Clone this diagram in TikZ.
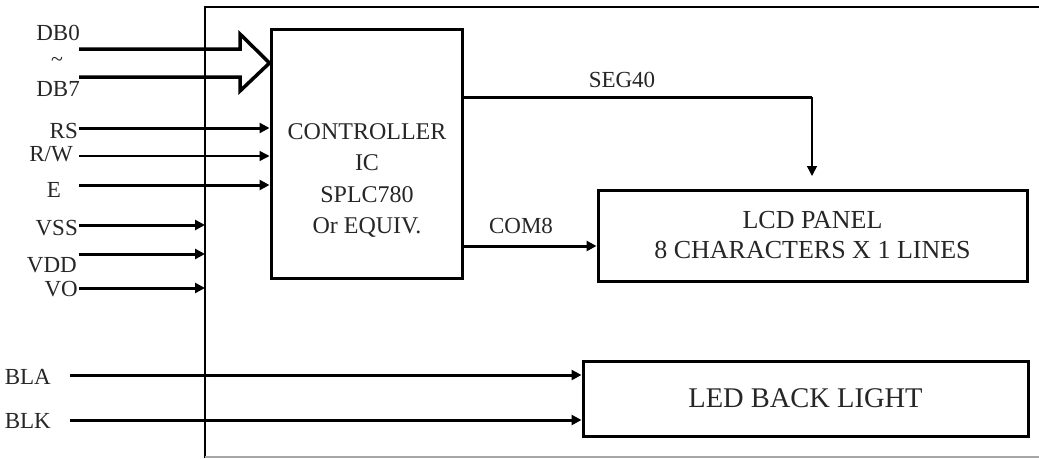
\documentclass[tikz,border=0pt]{standalone}
\usepackage{fontspec}
\setmainfont{Liberation Serif}
\usetikzlibrary{arrows.meta}
\tikzset{
  lbl/.style={inner sep=0pt, text=black!85, font=\fontsize{23}{26}\selectfont},
  boxtext/.style={text=black!85, font=\fontsize{26}{31}\selectfont, align=center},
  blk/.style={draw, line width=3pt, inner sep=0pt},
  sig/.style={line width=3pt, -{Triangle[length=10pt,width=10pt]}},
  thinsig/.style={line width=1.5pt, -{Triangle[length=10pt,width=10pt]}},
  frame/.style={line width=2.2pt},
  bus/.style={line width=3.5pt, miter limit=10}
}
\begin{document}
\begin{tikzpicture}[x=1pt,y=-1pt]
\useasboundingbox (0,0) rectangle (1039,458);
% frame
\draw[frame] (205,458) -- (205,7) -- (1039,7);
\draw[line width=1.5pt, black!35] (205,457) -- (1039,457);
% blocks
\node[blk, minimum width=191pt, minimum height=249pt] (ctrl) at (366.5,153.5) {};
\node[boxtext, font=\fontsize{24}{31.5}\selectfont] (ctrltext) at (367,180.5) {CONTROLLER\\IC\\SPLC780\\Or EQUIV.};
\node[blk, minimum width=429pt, minimum height=91pt, boxtext] (lcd) at (812.5,235.5) {LCD PANEL\\[-1pt]8 CHARACTERS X 1 LINES};
\node[blk, minimum width=445pt, minimum height=75pt, boxtext, font=\fontsize{28.5}{31}\selectfont] (led) at (805.5,398.5) {LED BACK LIGHT};
% left labels
\node[lbl, anchor=east] (db0) at (80,33) {DB0};
\node[lbl, font=\fontsize{22}{24}\selectfont] (tilde) at (57,62) {\textasciitilde};
\node[lbl, anchor=east] (db7) at (80,89) {DB7};
\node[lbl, anchor=east] (rs) at (78,131) {RS};
\node[lbl, anchor=east] (rw) at (73,154) {R/W};
\node[lbl] (e) at (54,190) {E};
\node[lbl, anchor=east] (vss) at (78,228) {VSS};
\node[lbl, anchor=east] (vdd) at (77,265) {VDD};
\node[lbl, anchor=east] (vo) at (78,289) {VO};
\node[lbl, anchor=east] (bla) at (51,377) {BLA};
\node[lbl, anchor=east] (blk) at (51,421) {BLK};
\node[lbl] (seg) at (622,80) {SEG40};
\node[lbl] (com) at (521,226) {COM8};
% start points
\coordinate (srs) at (79,128);
\coordinate (srw) at (79,156);
\coordinate (se) at (79,185);
\coordinate (svss) at (79,225);
\coordinate (svdd) at (79,254);
\coordinate (svo) at (79,288);
\coordinate (sbla) at (70,375);
\coordinate (sblk) at (70,420);
\coordinate (fl) at (205,0);
% data bus hollow arrow
\draw[bus] (79,49) -- (240,49) -- (240,34) -- (ctrl.west |- 0,63) -- (240,91) -- (240,77) -- (79,77);
% control inputs
\draw[sig] (srs) -- (srs -| ctrl.west);
\draw[thinsig] (srw) -- (srw -| ctrl.west);
\draw[sig] (se) -- (se -| ctrl.west);
\draw[sig] (svss) -- (svss -| fl);
\draw[sig] (svdd) -- (svdd -| fl);
\draw[sig] (svo) -- (svo -| fl);
\draw[sig] (sbla) -- (sbla -| led.west);
\draw[sig] (sblk) -- (sblk -| led.west);
% outputs
\coordinate (sego) at (ctrl.east |- 0,97);
\coordinate (segc) at (812,97);
\draw[line width=3pt] (sego) -- (segc);
\draw[thinsig] (segc) -- (812,176);
\coordinate (como) at (ctrl.east |- 0,246);
\draw[sig] (como) -- (como -| lcd.west);
\end{tikzpicture}
\end{document}
